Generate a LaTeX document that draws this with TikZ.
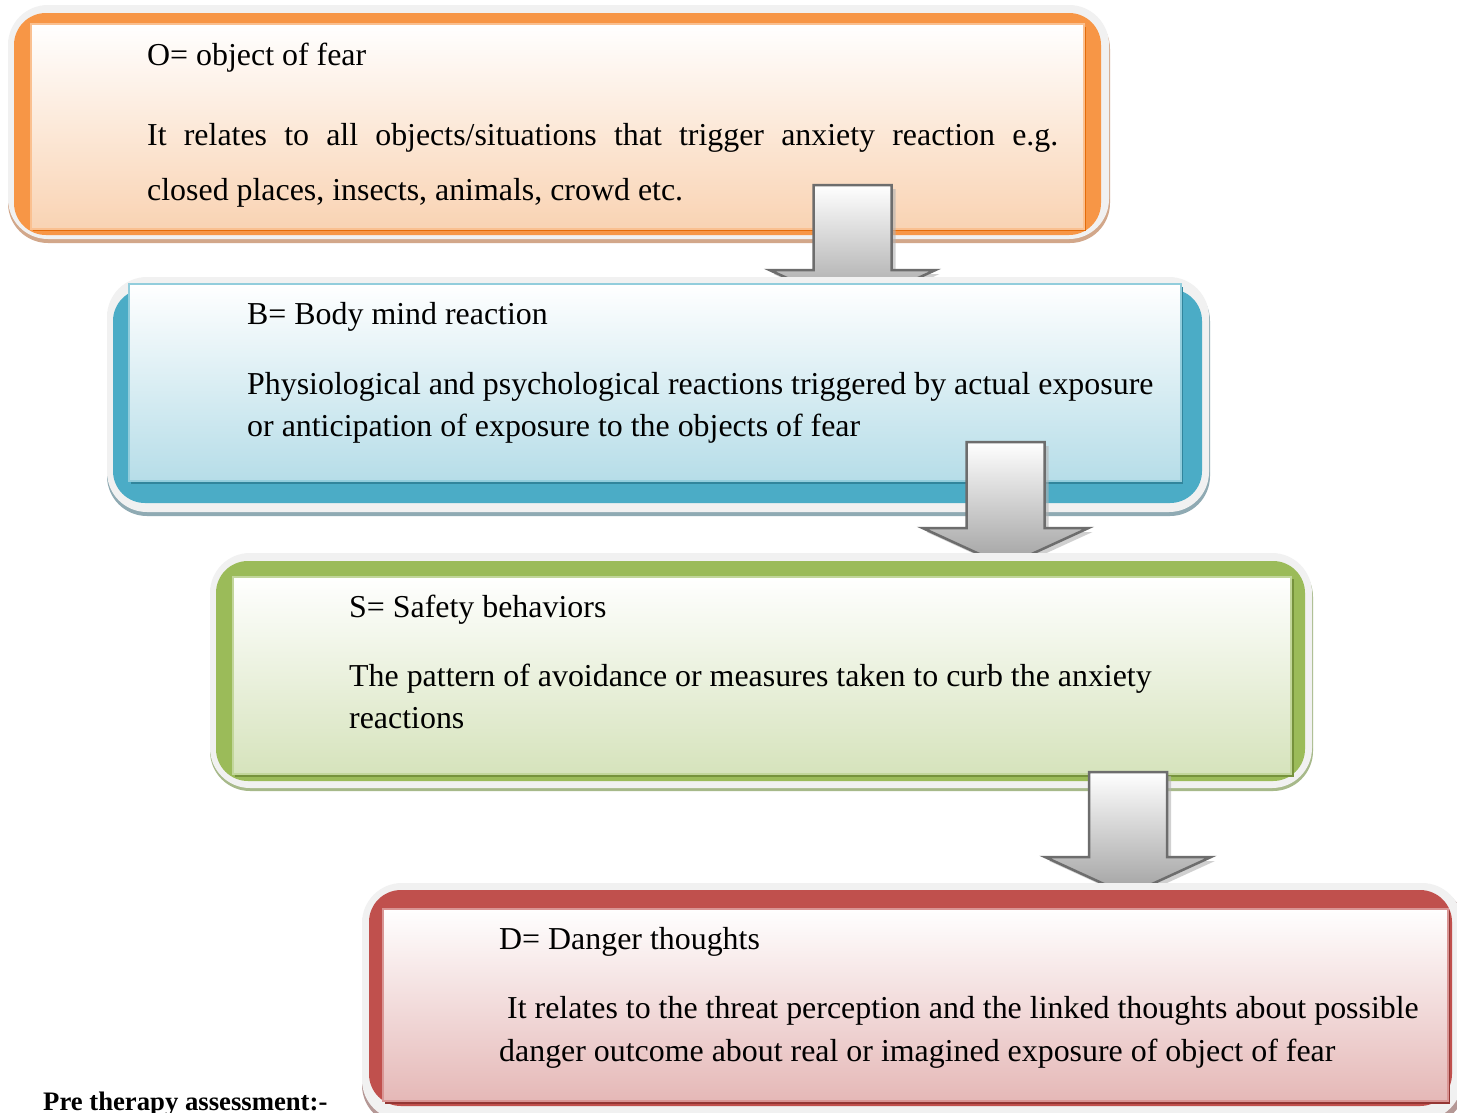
\documentclass[tikz,border=0pt]{standalone}
\usepackage{fontspec}
\setmainfont{Liberation Serif}
\usetikzlibrary{calc}

\definecolor{framegray}{HTML}{F1F1F1}
\definecolor{oMain}{HTML}{F79646}
\definecolor{oDark}{HTML}{E46C0A}
\definecolor{oLight}{HTML}{F9D3B3}
\definecolor{oBorder}{HTML}{FAC090}
\definecolor{oShadow}{HTML}{D2A78A}
\definecolor{bMain}{HTML}{4BACC6}
\definecolor{bDark}{HTML}{31859C}
\definecolor{bLight}{HTML}{B6DDE8}
\definecolor{bBorder}{HTML}{92CDDC}
\definecolor{bShadow}{HTML}{8FAAB3}
\definecolor{gMain}{HTML}{9BBB59}
\definecolor{gDark}{HTML}{76923C}
\definecolor{gLight}{HTML}{D6E3BC}
\definecolor{gBorder}{HTML}{C2D69B}
\definecolor{gShadow}{HTML}{A7B98A}
\definecolor{rMain}{HTML}{C0504D}
\definecolor{rDark}{HTML}{943634}
\definecolor{rLight}{HTML}{E5B8B7}
\definecolor{rBorder}{HTML}{D99594}
\definecolor{rShadow}{HTML}{B59896}
\definecolor{arrowEdge}{HTML}{6D6D6D}
\definecolor{arrowLow}{HTML}{A0A0A0}

\tikzset{
  frameshape/.style={fill=framegray, rounded corners=40pt},
  frameshadow/.style={fill=#1, rounded corners=40pt},
  outershape/.style={fill=#1, rounded corners=32pt},
  innerbox/.style={rectangle, anchor=north west, line width=1.5pt, inner sep=0pt},
  txt/.style={anchor=base west, inner sep=0pt, font=\fontsize{31.9}{38}\selectfont},
  arrowbody/.style={top color=white, bottom color=arrowLow, draw=arrowEdge, line width=2.5pt, line join=miter},
  arrowshade/.style={fill=black!30, opacity=0.6},
}

\newcommand\blockarrow[4]{%
  \fill[arrowshade] ({#1-37},{#2+4}) -- ({#1+43},{#2+4}) -- ({#1+43},{#3+4}) -- ({#1+87},{#3+4}) -- ({#1+4},{#4+4}) -- ({#1-79},{#3+4}) -- ({#1-35},{#3+4}) -- cycle;
  \path[arrowbody] ({#1-39},#2) -- ({#1+39},#2) -- ({#1+39},#3) -- ({#1+83},#3) -- (#1,#4) -- ({#1-83},#3) -- ({#1-39},#3) -- cycle;
}

\begin{document}
\begin{tikzpicture}[x=1pt,y=-1pt]
\useasboundingbox (0,0) rectangle (1457,1112);
\fill[white] (0,0) rectangle (1457,1112);

% ---------- Box O ----------
\fill[frameshadow=oShadow] (8,9) rectangle (1110,243);
\fill[frameshape] (8,5) rectangle (1109,239);
\fill[outershape=oMain] (14,13) rectangle (1101,235);
\fill[oDark] (33,27) rectangle (1086,231);
\node[innerbox, top color=white, bottom color=oLight, draw=oBorder,
      minimum width=1053pt, minimum height=205pt] (O) at (30,23) {};
\node[txt] (Ot) at (147,65) {O= object of fear};
\node[txt] (Ob1) at (147,145) {\makebox[911pt][s]{It relates to all objects/situations that trigger anxiety reaction e.g.}};
\node[txt] (Ob2) at (147,200) {closed places, insects, animals, crowd etc.};

% arrow O -> B
\blockarrow{852.5}{185}{270}{308}

% ---------- Box B ----------
\fill[frameshadow=bShadow] (107,281) rectangle (1210,516);
\fill[frameshape] (107,277) rectangle (1209,512);
\fill[outershape=bMain] (113,289) rectangle (1202,503);
\fill[bDark] (131,287) rectangle (1183,484);
\node[innerbox, top color=white, bottom color=bLight, draw=bBorder,
      minimum width=1052pt, minimum height=197pt] (B) at (128,283) {};
\node[txt] (Bt) at (247,324) {B= Body mind reaction};
\node[txt] (Bb1) at (247,394) {Physiological and psychological reactions triggered by actual exposure};
\node[txt] (Bb2) at (247,436) {or anticipation of exposure to the objects of fear};

% arrow B -> S
\blockarrow{1005.5}{442}{528}{566}

% ---------- Box S ----------
\fill[frameshadow=gShadow] (210,557) rectangle (1313,791);
\fill[frameshape] (210,553) rectangle (1312,788);
\fill[outershape=gMain] (216,561) rectangle (1305,781);
\fill[gDark] (235,579) rectangle (1294,777);
\node[innerbox, top color=white, bottom color=gLight, draw=gBorder,
      minimum width=1058pt, minimum height=197pt] (S) at (232,576) {};
\node[txt] (St) at (349,617) {S= Safety behaviors};
\node[txt] (Sb1) at (349,686) {The pattern of avoidance or measures taken to curb the anxiety};
\node[txt] (Sb2) at (349,728) {reactions};

% arrow S -> D
\blockarrow{1128}{772}{857}{895}

% ---------- Box D ----------
\fill[frameshadow=rShadow] (362,887) rectangle (1465,1125);
\fill[frameshape] (362,883) rectangle (1462,1120);
\fill[outershape=rMain] (369,890) rectangle (1452,1106);
\fill[rDark] (385,911) rectangle (1450,1104);
\node[innerbox, top color=white, bottom color=rLight, draw=rBorder,
      minimum width=1065pt, minimum height=192pt] (D) at (382,908) {};
\node[txt] (Dt) at (499,949) {D= Danger thoughts};
\node[txt] (Db1) at (507,1018) {It relates to the threat perception and the linked thoughts about possible};
\node[txt] (Db2) at (499,1061) {danger outcome about real or imagined exposure of object of fear};

% ---------- caption ----------
\node[anchor=base west, inner sep=0pt, font=\bfseries\fontsize{26.7}{32}\selectfont] (pre) at (43,1110) {Pre therapy assessment:-};
\end{tikzpicture}
\end{document}
